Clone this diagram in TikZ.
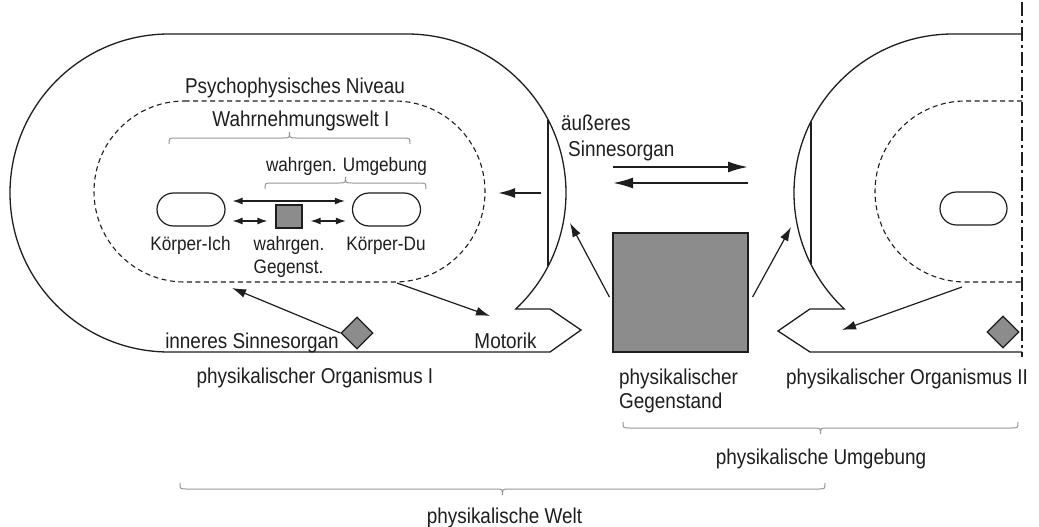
\documentclass[tikz,border=0pt]{standalone}
\usepackage{fontspec}
\setmainfont{Liberation Sans}[FakeStretch=0.88]
\usetikzlibrary{arrows.meta,shapes.misc,shapes.geometric}
\definecolor{objgray}{RGB}{140,140,140}
\definecolor{bracegray}{RGB}{150,150,150}
\definecolor{inkcol}{RGB}{30,30,30}
\newcommand\mybrace[4]{%
  \draw[brc] (#1,{#3+6*(#4)}) .. controls (#1,#3) .. ({#1+7},#3)
    -- ({(#1+#2)/2-7},#3) .. controls ({(#1+#2)/2},#3) .. ({(#1+#2)/2},{#3-6*(#4)})
    .. controls ({(#1+#2)/2},#3) .. ({(#1+#2)/2+7},#3)
    -- ({#2-7},#3) .. controls (#2,#3) .. (#2,{#3+6*(#4)});}
\tikzset{
  outline/.style={line width=1.3pt, draw=inkcol},
  dashedline/.style={line width=1.1pt, draw=inkcol, dash pattern=on 5pt off 3.5pt},
  dashdotline/.style={line width=2pt, draw=inkcol, dash pattern=on 14pt off 4pt on 3pt off 4pt},
  bigtext/.style={font=\fontsize{21.5}{24}\selectfont, inner sep=0pt, text=inkcol},
  smalltext/.style={font=\fontsize{19.5}{23}\selectfont, inner sep=0pt, text=inkcol},
  body/.style={draw=inkcol, line width=1.2pt, rounded rectangle, minimum width=68pt, minimum height=33pt, inner sep=0pt},
  thing/.style={draw=inkcol, line width=1.2pt, fill=objgray, inner sep=0pt},
  organ/.style={draw=inkcol, line width=1.2pt, fill=objgray, diamond, minimum width=32pt, minimum height=32pt, inner sep=0pt},
  brc/.style={draw=bracegray, line width=1pt},
  bigarrow/.style={line width=2pt, draw=inkcol, -{Latex[length=20pt,width=11pt]}},
  medarrow/.style={line width=2pt, draw=inkcol, -{Latex[length=17pt,width=10pt]}},
  thinarrow/.style={line width=1.2pt, draw=inkcol, -{Latex[length=14pt,width=9pt]}},
  dblarrow/.style={line width=1.3pt, draw=inkcol, {Latex[length=10pt,width=7pt]}-{Latex[length=10pt,width=7pt]}},
}
\begin{document}
\begin{tikzpicture}[x=1pt,y=-1pt]
\useasboundingbox (0,0) rectangle (1039,527);
\fill[white] (0,0) rectangle (1039,527);

% left organism
\draw[outline] (516,308.9) -- (550,308.9) -- (581,330) -- (550,352) -- (169,352)
  arc[start angle=90, end angle=270, radius=159] -- (407,34)
  arc[start angle=270, end angle=406.8, radius=159] -- cycle;
\draw[outline] (548,119.6) -- (548,266.4);
\draw[dashedline] (184.5,101) -- (394.5,101) arc[start angle=-90, end angle=90, radius=90.5]
  -- (184.5,282) arc[start angle=90, end angle=270, radius=90.5] -- cycle;

% right organism
\draw[outline] (1022,34) -- (953,34) arc[start angle=270, end angle=133.2, radius=159]
  -- (810,308.9) -- (778,331) -- (810,352) -- (1022,352);
\draw[outline] (811,121.6) -- (811,264.4);
\draw[dashedline] (1022,101) -- (965.5,101) arc[start angle=270, end angle=90, radius=90.5] -- (1022,282);
\coordinate (axT) at (1022,2);
\coordinate (axB) at (1022,357);
\draw[dashdotline] (axT) -- (axB);

% texts
\node[bigtext, anchor=base] (psy) at (295,93) {Psychophysisches Niveau};
\node[bigtext, anchor=base] (wahr) at (301,126) {Wahrnehmungswelt I};
\node[smalltext, anchor=base] (wumg) at (346.5,171.5) {wahrgen. Umgebung};
\node[smalltext, anchor=base] (tich) at (190.5,250.5) {Körper-Ich};
\node[smalltext, anchor=base] (tgg1) at (289,250) {wahrgen.};
\node[smalltext, anchor=base] (tgg2) at (288.5,273) {Gegenst.};
\node[smalltext, anchor=base] (tdu) at (386,250.5) {Körper-Du};
\node[bigtext, anchor=base east] (tinn) at (339,348) {inneres Sinnesorgan};
\node[bigtext, anchor=base] (tmot) at (505.5,348) {Motorik};
\node[bigtext, anchor=base west] (taeu1) at (561,130) {äußeres};
\node[bigtext, anchor=base west] (taeu2) at (568,156.7) {Sinnesorgan};
\node[bigtext, anchor=base] (torg1) at (315,383.5) {physikalischer Organismus I};
\node[bigtext, anchor=base west] (tgeg1) at (619,384.5) {physikalischer};
\node[bigtext, anchor=base west] (tgeg2) at (619,408.3) {Gegenstand};
\node[bigtext, anchor=base] (torg2) at (907,384) {physikalischer Organismus II};
\node[bigtext, anchor=base] (tumg) at (821,464) {physikalische Umgebung};
\node[bigtext, anchor=base] (twelt) at (504.5,523) {physikalische Welt};

% braces
\mybrace{169}{410}{138}{1}
\mybrace{265}{426}{183}{1}
\mybrace{623}{1018}{428}{-1}
\mybrace{180}{825}{489}{-1}

% objects
\node[body] (kich) at (191,209.5) {};
\node[body] (kdu) at (386.5,209.5) {};
\node[body, minimum width=67pt] (kdu2) at (973.5,208.5) {};
\node[thing, minimum width=26pt, minimum height=23pt] (gs) at (289,216.5) {};
\node[thing, minimum width=135pt, minimum height=119pt] (bigsq) at (680.5,292.5) {};
\node[organ] (dL) at (357,333) {};
\node[organ] (dR) at (1003,332) {};

% arrows inside
\draw[dblarrow] ([shift={(7,-8.5)}]kich.east) -- ([shift={(-7,-8.5)}]kdu.west);
\draw[dblarrow] ([shift={(7,11.5)}]kich.east) -- ([shift={(-8,4.5)}]gs.west);
\draw[dblarrow] ([shift={(8,4.5)}]gs.east) -- ([shift={(-6,11.5)}]kdu.west);

% sense organ arrow
\coordinate (orgS) at (541,193);
\coordinate (orgT) at (498,193);
\draw[medarrow] (orgS) -- (orgT);

% middle arrows
\coordinate (m1a) at (613,167);
\coordinate (m1b) at (748,167);
\coordinate (m2a) at (748,183);
\coordinate (m2b) at (613,183);
\draw[bigarrow] (m1a) -- (m1b);
\draw[bigarrow] (m2a) -- (m2b);

% object to organs
\coordinate (senseL) at (570,223);
\coordinate (senseR) at (791,227);
\draw[thinarrow] ([shift={(-3,4.5)}]bigsq.west) -- (senseL);
\draw[thinarrow] ([shift={(4,4.5)}]bigsq.east) -- (senseR);

% inner sense organ and motor
\coordinate (innT) at (232,288);
\draw[thinarrow] (dL.west) -- (innT);
\coordinate (motS) at (397,283);
\coordinate (motT) at (490,316);
\draw[thinarrow] (motS) -- (motT);
\coordinate (mot2S) at (962,287);
\coordinate (mot2T) at (842,330);
\draw[thinarrow] (mot2S) -- (mot2T);
\end{tikzpicture}
\end{document}
